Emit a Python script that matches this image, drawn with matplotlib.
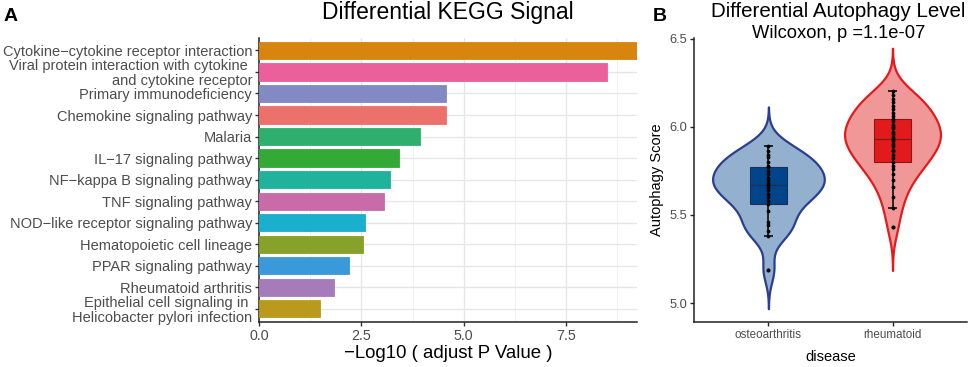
import numpy as np
import matplotlib
matplotlib.use("Agg")
import matplotlib.pyplot as plt
from matplotlib.cbook import boxplot_stats

plt.rcParams['font.family'] = ['Liberation Sans', 'DejaVu Sans']

# Panel A data
pathways = ["Cytokine\u2212cytokine receptor interaction",
            "Viral protein interaction with cytokine \nand cytokine receptor",
            "Primary immunodeficiency",
            "Chemokine signaling pathway",
            "Malaria",
            "IL\u221217 signaling pathway",
            "NF\u2212kappa B signaling pathway",
            "TNF signaling pathway",
            "NOD\u2212like receptor signaling pathway",
            "Hematopoietic cell lineage",
            "PPAR signaling pathway",
            "Rheumatoid arthritis",
            "Epithelial cell signaling in \nHelicobacter pylori infection"]
neglog_p = [9.23, 8.51, 4.56, 4.56, 3.94, 3.43, 3.21, 3.06, 2.59, 2.54, 2.20, 1.84, 1.48]
bar_colors = ["#D8850F", "#EB5F9B", "#8389C3", "#EC706B", "#2EAF6E", "#33A937", "#20B39C",
              "#C86BA8", "#1AAFCC", "#86A22B", "#3A9AD9", "#A57BB9", "#B99A1D"]

# Panel B data
groups = ["osteoarthritis", "rheumatoid"]
oa_scores = [5.19, 5.38, 5.41, 5.44, 5.46, 5.52, 5.56, 5.58, 5.60, 5.62, 5.64, 5.66, 5.67,
             5.68, 5.70, 5.71, 5.73, 5.75, 5.77, 5.78, 5.80, 5.83, 5.84, 5.86, 5.89]
ra_scores = [5.43, 5.54, 5.60, 5.66, 5.70, 5.73, 5.76, 5.78, 5.80, 5.82, 5.84, 5.86, 5.87,
             5.89, 5.90, 5.92, 5.93, 5.94, 5.96, 5.97, 5.99, 6.00, 6.01, 6.03, 6.045, 6.06,
             6.08, 6.10, 6.12, 6.14, 6.16, 6.18, 6.20]
violin_fill = ["#94B0CF", "#F09898"]
violin_edge = ["#2B3F8F", "#E41A1C"]
box_fill = ["#00458C", "#E31A1C"]
box_edge = ["#1E2E55", "#8A1515"]

fig = plt.figure(figsize=(9.69, 3.67), dpi=100)

# ---- Panel A ----
axA = fig.add_axes([0.2673, 0.1234, 0.390, 0.7744])
ypos = np.arange(len(pathways))
axA.barh(ypos, neglog_p, height=0.8, color=bar_colors, edgecolor=bar_colors, linewidth=0.6, zorder=3)
axA.set_ylim(len(pathways) - 0.4, -0.6)
axA.set_xlim(0, max(neglog_p))
axA.set_yticks(ypos)
axA.set_yticklabels(pathways, fontsize=10.5, color="#4D4D4D", linespacing=1.08)
axA.set_xticks([0, 2.5, 5.0, 7.5])
axA.set_xticklabels(["0.0", "2.5", "5.0", "7.5"], fontsize=10.3, color="#4D4D4D")
axA.set_xticks([1.25, 3.75, 6.25, 8.75], minor=True)
axA.grid(True, which="major", color="#E6E6E6", lw=1.0, zorder=0)
axA.grid(True, which="minor", axis="x", color="#F0F0F0", lw=0.7, zorder=0)
axA.tick_params(which="minor", length=0)
axA.tick_params(which="major", length=3, width=1, color="#333333", pad=2)
for s in ["top", "right"]:
    axA.spines[s].set_visible(False)
for s in ["left", "bottom"]:
    axA.spines[s].set_color("#222222")
    axA.spines[s].set_linewidth(1.1)
axA.set_xlabel("\u2212Log10 ( adjust P Value )", fontsize=13.4, labelpad=2)
fig.text(0.4623, 0.966, "Differential KEGG Signal", fontsize=16.5, ha="center", va="center")
fig.text(0.004, 0.955, "A", fontsize=14, fontweight="bold", va="center")

# ---- Panel B ----
axB = fig.add_axes([0.7162, 0.1234, 0.2817, 0.7744])
data = [np.array(oa_scores), np.array(ra_scores)]
positions = [1, 2]


def kde(vals):
    n = len(vals)
    q = np.percentile(vals, [25, 75])
    bw = 0.9 * min(vals.std(ddof=1), (q[1] - q[0]) / 1.34) * n ** -0.2
    grid = np.linspace(vals.min() - 3 * bw, vals.max() + 3 * bw, 512)
    dens = np.exp(-0.5 * ((grid[:, None] - vals[None, :]) / bw) ** 2).sum(axis=1)
    dens /= n * bw * np.sqrt(2 * np.pi)
    return grid, dens


kdes = [kde(v) for v in data]
dmax = max(d.max() for _, d in kdes)
for i, (g, d) in enumerate(kdes):
    half = 0.45 * d / dmax
    p = positions[i]
    axB.fill_betweenx(g, p - half, p + half, facecolor=violin_fill[i],
                      edgecolor=violin_edge[i], linewidth=1.6, zorder=1)

stats = [boxplot_stats(v, whis=1.5)[0] for v in data]
for i, st in enumerate(stats):
    axB.bxp([st], positions=[positions[i]], widths=0.3, patch_artist=True,
            showcaps=False, showfliers=False,
            boxprops=dict(facecolor=box_fill[i], edgecolor=box_edge[i], linewidth=0.8),
            medianprops=dict(color=box_edge[i], linewidth=1.0),
            whiskerprops=dict(linewidth=0))
    # error bar whiskers drawn on top of box
    axB.vlines(positions[i], st["whislo"], st["whishi"], color="black", lw=1.1, zorder=4)
    axB.hlines([st["whislo"], st["whishi"]], positions[i] - 0.035, positions[i] + 0.035,
               color="black", lw=1.1, zorder=4)
    axB.scatter(np.full(len(st["fliers"]), positions[i]), st["fliers"], s=4,
                color="#555555", zorder=5)
    axB.scatter(np.full(len(data[i]), positions[i]), data[i], s=3, color="black", zorder=5)

axB.set_xlim(0.4, 2.6)
axB.set_ylim(4.894, 6.506)
axB.set_xticks(positions)
axB.set_xticklabels(groups, fontsize=8.4, color="#4D4D4D")
axB.set_yticks([5.0, 5.5, 6.0, 6.5])
axB.set_yticklabels(["5.0", "5.5", "6.0", "6.5"], fontsize=9.3, color="#4D4D4D")
axB.tick_params(length=3, width=1, color="#222222", pad=2)
for s in ["top", "right"]:
    axB.spines[s].set_visible(False)
for s in ["left", "bottom"]:
    axB.spines[s].set_color("#222222")
    axB.spines[s].set_linewidth(1.1)
axB.set_ylabel("Autophagy Score", fontsize=10.5, labelpad=4)
axB.set_xlabel("disease", fontsize=10.5, labelpad=7)
fig.text(0.865, 0.97, "Differential Autophagy Level", fontsize=14.8, ha="center", va="center")
fig.text(0.865, 0.908, "Wilcoxon, p =1.1e-07", fontsize=13.2, ha="center", va="center")
fig.text(0.674, 0.955, "B", fontsize=14, fontweight="bold", va="center")

fig.savefig("out.png", dpi=100)
